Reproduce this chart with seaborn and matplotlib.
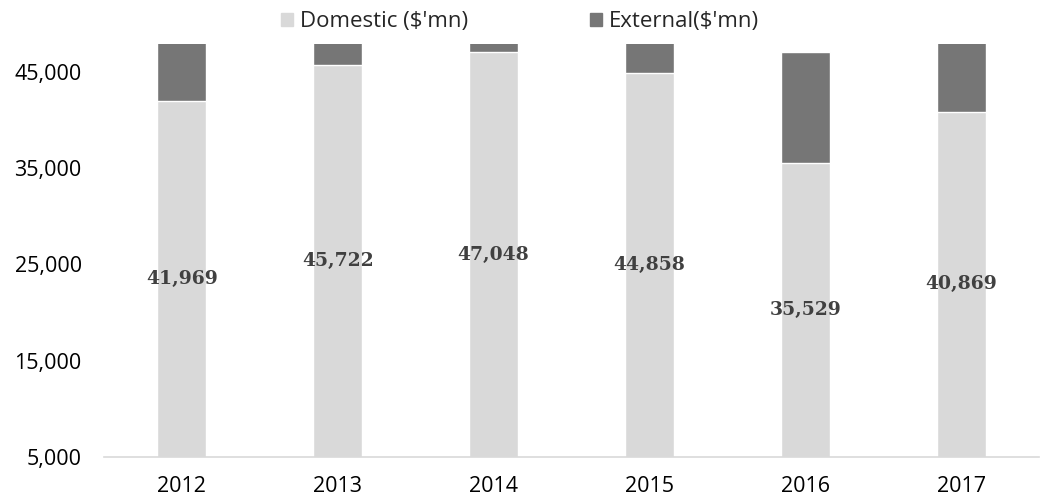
import matplotlib
matplotlib.use("Agg")
import matplotlib.pyplot as plt
import seaborn as sns
import pandas as pd
from matplotlib.patches import Patch
from matplotlib.ticker import FuncFormatter

years = ["2012", "2013", "2014", "2015", "2016", "2017"]
domestic = [41969, 45722, 47048, 44858, 35529, 40869]
external = [7200, 3500, 2500, 4200, 11500, 8400]

df = pd.DataFrame({"Year": years, "Domestic": domestic, "External": external})
df["Total"] = df["Domestic"] + df["External"]

sns.set_style("white")
plt.rcParams["font.family"] = ["Open Sans", "DejaVu Sans"]

dom_col = "#D9D9D9"
ext_col = "#767676"
y_min, y_max = 5000, 47900

fig = plt.figure(figsize=(10.46, 4.99), dpi=100)
ax = fig.add_axes([0.0994, 0.0842, 0.8939, 0.8276])

# total first (dark), domestic on top (light) -> stacked look
sns.barplot(data=df, x="Year", y="Total", color=ext_col, width=0.314,
            saturation=1, ax=ax)
sns.barplot(data=df, x="Year", y="Domestic", color=dom_col, width=0.314,
            saturation=1, ax=ax)

ax.set_ylim(y_min, y_max)
ax.set_xlim(-0.5, 5.5)
ax.set_yticks([5000, 15000, 25000, 35000, 45000])
ax.yaxis.set_major_formatter(FuncFormatter(lambda v, p: f"{int(v):,}"))
ax.set_xlabel("")
ax.set_ylabel("")
ax.tick_params(axis="both", length=0, labelsize=15.5, colors="#000000")
ax.tick_params(axis="y", pad=16)
ax.tick_params(axis="x", pad=14)

for s in ["top", "right", "left"]:
    ax.spines[s].set_visible(False)
ax.spines["bottom"].set_color("#D9D9D9")
ax.spines["bottom"].set_linewidth(1.2)

# data labels in the middle of the visible domestic part
for i, d in enumerate(domestic):
    ax.text(i, (y_min + d) / 2, f"{d:,}", ha="center", va="center",
            fontsize=13.5, fontweight="bold", family="DejaVu Serif",
            color="#404040")

handles = [Patch(color=dom_col, label="Domestic ($'mn)"),
           Patch(color=ext_col, label="External($'mn)")]
fig.legend(handles=handles, loc="center", bbox_to_anchor=(0.497, 0.956),
           ncol=2, frameon=False, fontsize=16, handlelength=0.55,
           handleheight=0.55, handletextpad=0.3, columnspacing=5.5)

fig.savefig("out.png", dpi=100)
